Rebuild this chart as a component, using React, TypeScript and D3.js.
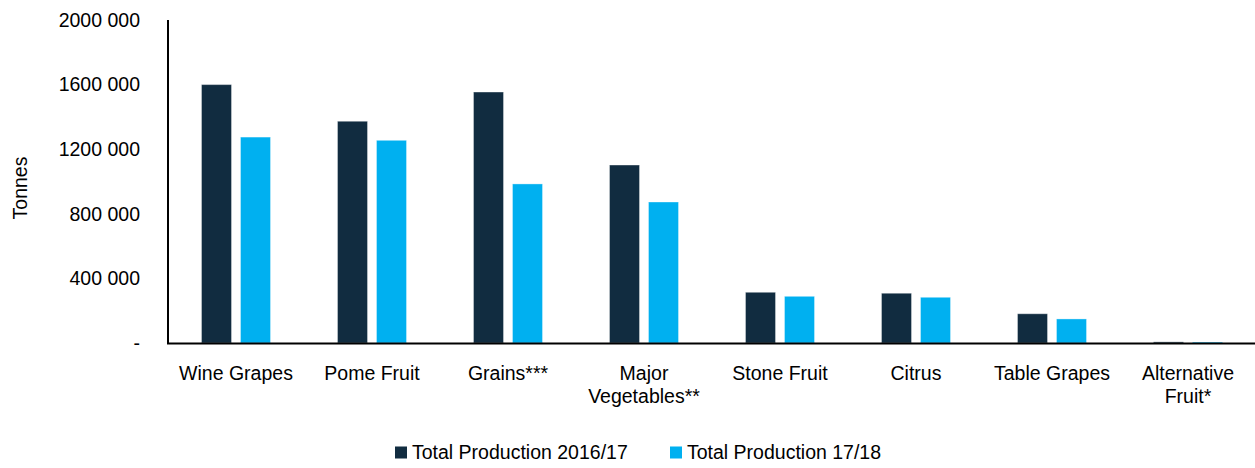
import React from 'react'
import { scaleBand, scaleLinear } from 'd3'

const categories = [
  ['Wine Grapes'],
  ['Pome Fruit'],
  ['Grains***'],
  ['Major', 'Vegetables**'],
  ['Stone Fruit'],
  ['Citrus'],
  ['Table Grapes'],
  ['Alternative', 'Fruit*'],
]
const seriesNames = ['Total Production 2016/17', 'Total Production 17/18']
const seriesColors = ['#112C40', '#00B0F0']
const prod2016 = [1600000, 1373000, 1554000, 1102000, 314000, 308000, 181000, 7000]
const prod2017 = [1275000, 1255000, 985000, 873000, 289000, 283000, 149000, 6000]
const yTicks = [0, 400000, 800000, 1200000, 1600000, 2000000]

const font = '"Liberation Sans", Arial, sans-serif'

function fmt(v: number) {
  if (v === 0) return '-'
  return Math.floor(v / 1000) + ' 000'
}

export default function App() {
  const W = 1255
  const H = 468
  const left = 168
  const right = 1256
  const top = 20
  const bottom = 343
  const fs = 19.5

  const keys = categories.map((c) => c.join(' '))
  const x0 = scaleBand().domain(keys).range([left, right]).padding(0)
  const x1 = scaleBand().domain(seriesNames).range([0, 69]).paddingInner(9 / 39).paddingOuter(0)
  const y = scaleLinear().domain([0, 2000000]).range([bottom, top])
  const series = [prod2016, prod2017]

  return (
    <svg width={W} height={H} style={{ position: 'absolute', left: 0, top: 0, fontFamily: font }}>
      <rect width={W} height={H} fill="white" />
      {keys.map((k, i) => {
        const off = x0(k)! + (x0.bandwidth() - 69) / 2
        return (
          <g key={k}>
            {seriesNames.map((s, j) => {
              const v = series[j][i]
              return (
                <rect
                  key={s}
                  x={off + x1(s)!}
                  y={y(v)}
                  width={x1.bandwidth()}
                  height={bottom - y(v)}
                  fill={seriesColors[j]}
                  stroke="white"
                  strokeOpacity={0.35}
                  strokeWidth={1}
                />
              )
            })}
          </g>
        )
      })}
      <line x1={left} x2={left} y1={top} y2={bottom} stroke="black" strokeWidth={2} />
      <line x1={left - 1} x2={right} y1={bottom + 0.5} y2={bottom + 0.5} stroke="black" strokeWidth={2} />
      {yTicks.map((t) => (
        <text key={t} x={140} y={y(t)} dy="0.35em" textAnchor="end" fontSize={fs} fill="#000">
          {fmt(t)}
        </text>
      ))}
      <text transform="translate(20,188) rotate(-90)" dy="0.35em" textAnchor="middle" fontSize={fs}>
        Tonnes
      </text>
      {categories.map((lines, i) => {
        const cx = x0(keys[i])! + x0.bandwidth() / 2
        return (
          <text key={keys[i]} x={cx} y={380} textAnchor="middle" fontSize={fs}>
            {lines.map((l, li) => (
              <tspan key={li} x={cx} dy={li === 0 ? 0 : 23}>
                {l}
              </tspan>
            ))}
          </text>
        )
      })}
      {seriesNames.map((s, j) => {
        const lx = [395, 670][j]
        return (
          <g key={s}>
            <rect x={lx} y={446.5} width={12} height={12} fill={seriesColors[j]} />
            <text x={lx + 17} y={458.5} fontSize={fs}>
              {s}
            </text>
          </g>
        )
      })}
    </svg>
  )
}
